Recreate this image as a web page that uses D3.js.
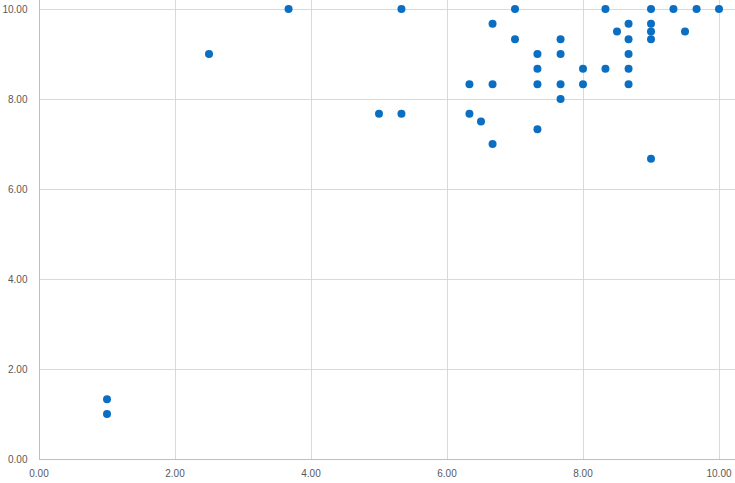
<!DOCTYPE html>
<html><head><meta charset="utf-8">
<script src="https://cdn.jsdelivr.net/npm/d3@7"></script>
<style>body{margin:0;background:#fff}svg{display:block}</style>
</head><body><svg id="c" width="735" height="483"></svg>
<script>
const xValues = [7.0,8.33,9,9.33,9.67,10,6.67,8.67,9,8.5,9,9.5,7,7.67,8.67,9,7.33,7.67,8.67,7.33,8,8.33,8.67,6.33,6.67,7.33,7.67,8,8.67,7.67,6.33,6.5,7.33,6.67,9,2.5,3.67,5.0,5.33,5.33,1.0,1.0];
const yValues = [10,10,10,10,10,10,9.67,9.67,9.67,9.5,9.5,9.5,9.33,9.33,9.33,9.33,9,9,9,8.67,8.67,8.67,8.67,8.33,8.33,8.33,8.33,8.33,8.33,8,7.67,7.5,7.33,7.0,6.67,9.0,10,7.67,7.67,10,1.33,1.0];
const xTicks = [0,2,4,6,8,10];
const yTicks = [0,2,4,6,8,10];

const svg = d3.select("#c");
const x = d3.scaleLinear().domain([0,10]).range([39,719]);
const y = d3.scaleLinear().domain([0,10]).range([459,9]);
const font = "'Liberation Sans', Arial, sans-serif";

// gridlines
svg.append("g").selectAll("line.v").data(xTicks.filter(d=>d>0)).join("line")
  .attr("x1",d=>x(d)+0.5).attr("x2",d=>x(d)+0.5).attr("y1",0).attr("y2",y(0))
  .attr("stroke","#d9d9d9").attr("stroke-width",1);
svg.append("g").selectAll("line.h").data(yTicks.filter(d=>d>0)).join("line")
  .attr("x1",x(0)).attr("x2",735).attr("y1",d=>Math.round(y(d))+0.5).attr("y2",d=>Math.round(y(d))+0.5)
  .attr("stroke","#d9d9d9").attr("stroke-width",1);

// axis lines
svg.append("line").attr("x1",x(0)+0.5).attr("x2",x(0)+0.5).attr("y1",0).attr("y2",y(0)+0.5)
  .attr("stroke","#bfbfbf");
svg.append("line").attr("x1",x(0)).attr("x2",735).attr("y1",y(0)+0.5).attr("y2",y(0)+0.5)
  .attr("stroke","#bfbfbf");

// tick labels
svg.append("g").selectAll("text").data(yTicks).join("text")
  .attr("x",27.5).attr("y",d=>y(d)).attr("dy","0.35em").attr("text-anchor","end")
  .attr("font-family",font).attr("font-size",10).attr("fill","#595959")
  .text(d=>d3.format(".2f")(d));
svg.append("g").selectAll("text").data(xTicks).join("text")
  .attr("x",d=>x(d)).attr("y",473).attr("dy","0.35em").attr("text-anchor","middle")
  .attr("font-family",font).attr("font-size",10).attr("fill","#595959")
  .text(d=>d3.format(".2f")(d));

// points
svg.append("g").selectAll("circle").data(xValues.map((v,i)=>[v,yValues[i]])).join("circle")
  .attr("cx",d=>x(d[0])).attr("cy",d=>y(d[1])).attr("r",4)
  .attr("fill","#0a6fc2");
</script></body></html>
